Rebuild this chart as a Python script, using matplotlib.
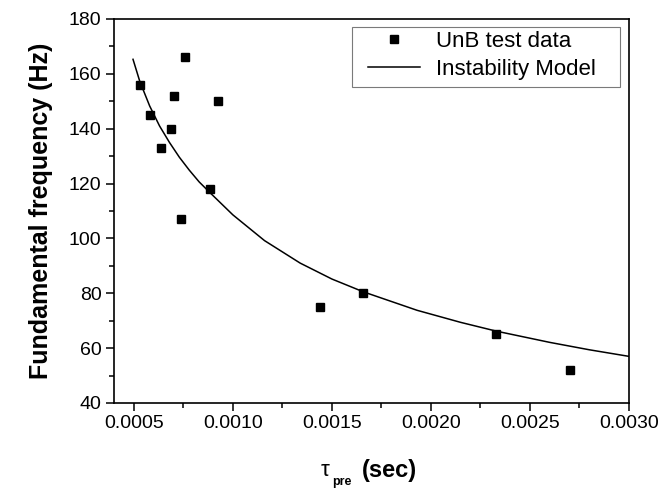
import matplotlib
matplotlib.use("Agg")
import matplotlib.pyplot as plt
from matplotlib.ticker import MultipleLocator
from matplotlib.patches import Rectangle

plt.rcParams['font.family'] = ['Liberation Sans', 'DejaVu Sans']

# Test data
tau_data = [0.000532, 0.000582, 0.000638, 0.000688, 0.000705, 0.000737,
            0.000759, 0.000883, 0.000923, 0.001439, 0.001656, 0.002328, 0.002700]
freq_data = [156, 145, 133, 140, 152, 107, 166, 118, 150, 75, 80, 65, 52]

# Instability model curve
tau_model = [0.000496, 0.00053, 0.00058, 0.00063, 0.00068, 0.00073, 0.00078,
             0.00083, 0.000883, 0.00100, 0.00116, 0.00134, 0.00150, 0.00166,
             0.00193, 0.00215, 0.00233, 0.00260, 0.00280, 0.00300]
freq_model = [165.3, 157.3, 148.3, 141.0, 135.0, 129.6, 124.9,
              120.6, 116.8, 108.6, 99.2, 91.0, 85.2, 80.5,
              73.8, 69.4, 66.2, 62.1, 59.4, 57.0]

x_ticks = [0.0005, 0.0010, 0.0015, 0.0020, 0.0025, 0.0030]
y_ticks = [40, 60, 80, 100, 120, 140, 160, 180]

W, H = 662, 488
fig = plt.figure(figsize=(W/100, H/100), dpi=100)
ax = fig.add_axes([114/W, 1-403/H, (629-114)/W, (403-19)/H])

ax.plot(tau_model, freq_model, color='black', lw=1.1, label='Instability Model', zorder=2)
ax.plot(tau_data, freq_data, ls='none', marker='s', ms=6, color='black',
        label='UnB test data', zorder=3)

ax.set_xlim(0.0004, 0.0030)
ax.set_ylim(40, 180)
ax.set_xticks(x_ticks)
ax.set_xticklabels([f"{t:.4f}" for t in x_ticks])
ax.set_yticks(y_ticks)
ax.xaxis.set_minor_locator(MultipleLocator(0.00025))
ax.yaxis.set_minor_locator(MultipleLocator(10))
ax.tick_params(which='major', direction='out', length=6, width=1.1, labelsize=14,
               top=False, right=False, pad=3)
ax.tick_params(which='minor', direction='out', length=3.5, width=1.1,
               top=False, right=False)
for s in ax.spines.values():
    s.set_linewidth(1.2)

ax.set_ylabel('Fundamental frequency (Hz)', fontsize=18, fontweight='bold', labelpad=11)

# x label: tau with bold subscript "pre" and bold "(sec)"
fig.text(321/W, 1-476/H, 'τ', fontsize=16, fontweight='normal', ha='left', va='baseline')
fig.text(332/W, 1-485/H, 'pre', fontsize=9, fontweight='bold', ha='left', va='baseline')
fig.text(362/W, 1-477/H, '(sec)', fontsize=17, fontweight='bold', ha='left', va='baseline')

# legend
h, l = ax.get_legend_handles_labels()
ax.legend(h[::-1], l[::-1], loc='upper left', bbox_to_anchor=((368-114)/515, 1-(31-19)/384),
          fontsize=16, frameon=False, borderpad=0, handlelength=2.35, handletextpad=0.7,
          labelspacing=0.3, borderaxespad=0, markerscale=0.9)
ax.add_patch(Rectangle(((352-114)/515, 1-(87-19)/384), (620-352)/515, (87-27)/384,
                       transform=ax.transAxes, fill=False, edgecolor='#7a7a7a',
                       lw=0.8, zorder=5))

fig.savefig('out.png', dpi=100)
